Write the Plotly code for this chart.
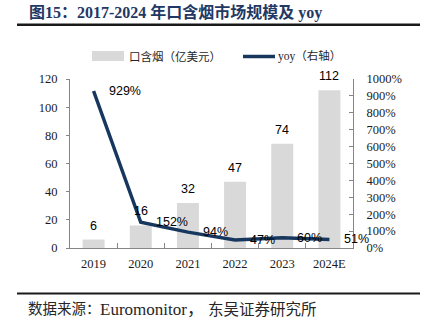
import plotly.graph_objects as go

# ---- data ----
categories = ["2019", "2020", "2021", "2022", "2023", "2024E"]
market_size = [6, 16, 32, 47, 74, 112]          # 口含烟（亿美元）
yoy = [929, 152, 94, 47, 60, 51]                # yoy（右轴）, %
left_ticks = [0, 20, 40, 60, 80, 100, 120]
right_ticks = [0, 100, 200, 300, 400, 500, 600, 700, 800, 900, 1000]

title_text = "图15：2017-2024 年口含烟市场规模及 yoy"
legend_bar = "口含烟（亿美元）"
legend_line = "yoy（右轴）"
source_parts = ["数据来源：", "Euromonitor，", "东吴证券研究所"]

# ---- layout geometry (pixels) ----
WIDTH, HEIGHT = 425, 327
L, R, T, B = 70, 353, 79, 248
PW, PH = R - L, B - T


def px(x):
    return (x - L) / PW


def py(y):
    return (B - y) / PH


SERIF = "Liberation Serif, Noto Sans CJK SC, serif"
SANS = "Liberation Sans, Arial, sans-serif"
CJK = "Liberation Serif, Noto Sans CJK SC, serif"
NAVY = "#17375e"
BAR = "#d9d9d9"
AXIS = "#868686"

fig = go.Figure()
fig.add_trace(go.Bar(x=categories, y=market_size, marker=dict(color=BAR, line=dict(width=0)),
                     name=legend_bar, yaxis="y", showlegend=False))
fig.add_trace(go.Scatter(x=categories, y=yoy, mode="lines", line=dict(color=NAVY, width=3.5),
                         name=legend_line, yaxis="y2", showlegend=False))

annotations = []
# bar value labels
for i, v in enumerate(market_size):
    annotations.append(dict(x=i, y=v, xref="x", yref="y", text=str(v), showarrow=False,
                            yanchor="bottom", xanchor="center", yshift=5,
                            font=dict(family=SANS, size=12.5, color="#000000")))
# yoy labels
for i, v in enumerate(yoy):
    annotations.append(dict(x=i, y=v, xref="x", yref="y2", text=f"{v}%", showarrow=False,
                            yanchor="middle", xanchor="left", xshift=13,
                            font=dict(family=SANS, size=12.5, color="#000000")))
# title
annotations.append(dict(x=px(27), y=py(12.5), xref="paper", yref="paper", text="<b>" + title_text + "</b>",
                        showarrow=False, xanchor="left", yanchor="middle",
                        font=dict(family=SERIF, size=16, color="#1f3864")))
# legend texts
annotations.append(dict(x=px(127), y=py(56), xref="paper", yref="paper", text=legend_bar,
                        showarrow=False, xanchor="left", yanchor="middle",
                        font=dict(family=CJK, size=11.5, color="#262626")))
annotations.append(dict(x=px(276), y=py(56), xref="paper", yref="paper", text=legend_line,
                        showarrow=False, xanchor="left", yanchor="middle",
                        font=dict(family=CJK, size=11.5, color="#262626")))
# source (three pieces, placed to match the wide spacing of the original)
src_x = [26, 98, 206]
src_size = [14.5, 17, 15.5]
for t, x0, s in zip(source_parts, src_x, src_size):
    annotations.append(dict(x=px(x0), y=py(309), xref="paper", yref="paper", text=t,
                            showarrow=False, xanchor="left", yanchor="middle",
                            font=dict(family=CJK, size=s, color="#262626")))

shapes = [
    # title rule
    dict(type="line", xref="paper", yref="paper", x0=px(17), x1=px(420), y0=py(24.7), y1=py(24.7),
         line=dict(color="#1a1a1a", width=2.5)),
    # source rule
    dict(type="line", xref="paper", yref="paper", x0=px(17), x1=px(420), y0=py(293.5), y1=py(293.5),
         line=dict(color="#1a1a1a", width=2)),
    # legend swatches
    dict(type="rect", xref="paper", yref="paper", x0=px(92), x1=px(124), y0=py(61), y1=py(51),
         fillcolor=BAR, line=dict(width=0)),
    dict(type="line", xref="paper", yref="paper", x0=px(243), x1=px(275), y0=py(56.5), y1=py(56.5),
         line=dict(color=NAVY, width=3.5)),
]

fig.update_layout(
    width=WIDTH, height=HEIGHT,
    margin=dict(l=L, r=WIDTH - R, t=T, b=HEIGHT - B, pad=0),
    paper_bgcolor="white", plot_bgcolor="white",
    bargap=0.534,
    showlegend=False,
    annotations=annotations,
    shapes=shapes,
    xaxis=dict(type="category", categoryorder="array", categoryarray=categories,
               range=[-0.5, len(categories) - 0.5], showgrid=False, showline=True,
               linecolor=AXIS, linewidth=1,
               ticks="inside", tickson="boundaries", ticklen=5, tickcolor=AXIS, tickangle=0,
               tickfont=dict(family=SERIF, size=12.5, color="#1a1a1a"), ticklabelstandoff=4),
    yaxis=dict(range=[0, 120], tickvals=left_ticks, showgrid=False, zeroline=False,
               showline=True, linecolor=AXIS, linewidth=1, ticks="outside", ticklen=3, tickcolor=AXIS,
               tickfont=dict(family=SERIF, size=12.5, color="#1a1a1a"), ticklabelstandoff=6),
    yaxis2=dict(range=[0, 1000], tickvals=right_ticks, ticktext=[f"{t}%" for t in right_ticks],
                overlaying="y", side="right", showgrid=False, zeroline=False,
                showline=True, linecolor=AXIS, linewidth=1, ticks="inside", ticklen=4, tickcolor=AXIS,
                tickfont=dict(family=SERIF, size=12.5, color="#1a1a1a"), ticklabelstandoff=10),
)

fig.write_html("out.html")
